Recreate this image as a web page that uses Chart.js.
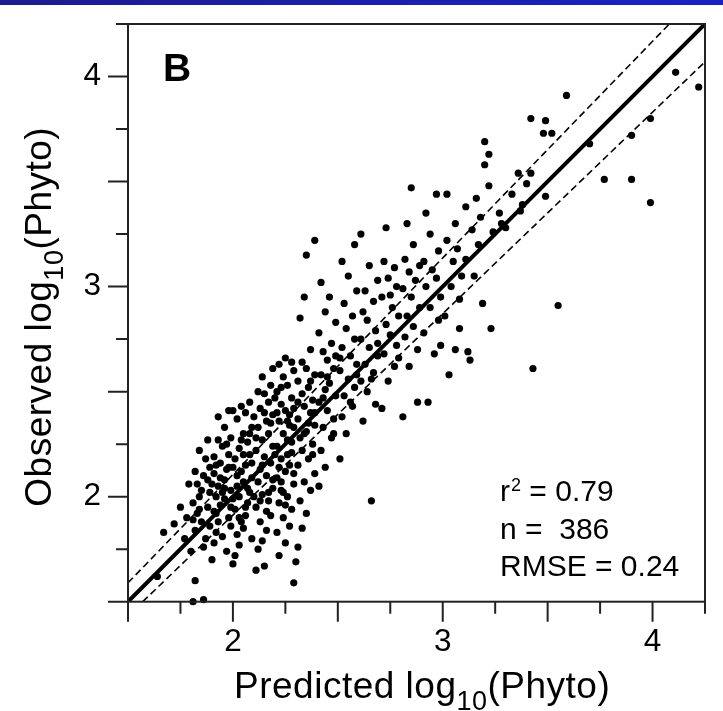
<!DOCTYPE html>
<html>
<head>
<meta charset="utf-8">
<script src="https://cdn.jsdelivr.net/npm/chart.js@4"></script>
<style>
  html, body { margin: 0; padding: 0; background: #fff; }
  #wrap { position: relative; width: 723px; height: 711px; }
  #band { position: absolute; left: 0; top: 0; width: 723px; height: 5px;
          background: linear-gradient(to right, #1c1c8e, #1a22c4); }
</style>
</head>
<body>
<div id="wrap">
  <canvas id="chart"></canvas>
  <div id="band"></div>
</div>
<script>
const axisMin = 1.5, axisMax = 4.25, tickStep = 0.25;
const tickLabels = [2, 3, 4];
const panelLabel = 'B';
const r2 = '0.79', nObs = '386', rmse = '0.24';

// 1:1 line and the two dashed bounds
const oneToOne = [[1.5, 1.5], [4.25, 4.25]];
const upperLine = [[1.5, 1.59], [4.08, 4.25]];
const lowerLine = [[1.57, 1.5], [4.25, 4.07]];

// [predicted, observed]
const phyto = [
  [1.64,1.62],[1.67,1.83],
  [1.72,1.87],[1.75,1.95],[1.77,1.80],[1.78,1.90],[1.79,2.06],
  [1.81,1.50],[1.82,1.60],[1.86,1.51],[1.80,1.74],[1.82,1.84],[1.83,1.92],[1.81,1.97],[1.84,2.00],
  [1.85,2.03],[1.83,2.06],[1.86,2.10],[1.87,2.18],[1.84,2.22],[1.88,2.27],[1.85,1.88],[1.88,1.95],
  [1.89,2.02],[1.87,1.80],[1.89,1.86],[1.82,2.12],[1.86,1.76],[1.88,2.08],[1.84,1.94],[1.89,2.14],[1.81,1.89],
  [1.90,1.70],[1.91,1.78],[1.92,1.83],[1.93,1.88],[1.91,1.93],[1.94,1.96],[1.92,2.00],[1.95,2.02],
  [1.93,2.05],[1.96,2.08],[1.91,2.11],[1.97,2.13],[1.94,2.16],[1.98,2.20],[1.95,2.24],[1.99,2.28],
  [1.96,2.33],[1.93,2.38],[1.98,2.41],[1.97,1.74],[1.99,1.86],[1.92,1.92],[1.96,1.99],[1.99,2.03],
  [1.90,2.06],[1.94,2.09],[1.98,2.14],[1.91,2.19],[1.97,2.25],[1.95,1.81],[1.99,1.95],[1.93,2.27],
  [1.96,2.04],[1.92,2.15],[1.98,1.90],
  [2.00,1.68],[2.01,1.72],[2.03,1.77],[2.02,1.82],[2.05,1.85],[2.04,1.88],[2.06,1.91],[2.01,1.94],
  [2.07,1.97],[2.03,2.00],[2.08,2.02],[2.02,2.05],[2.05,2.07],[2.09,2.09],[2.04,2.12],[2.06,2.15],
  [2.01,2.18],[2.08,2.20],[2.03,2.23],[2.07,2.26],[2.05,2.30],[2.09,2.33],[2.02,2.37],[2.06,2.40],
  [2.04,2.43],[2.08,2.45],[2.00,2.41],[2.10,2.38],[2.09,1.80],[2.00,1.99],[2.07,2.04],[2.02,2.10],
  [2.09,2.16],[2.04,2.27],[2.06,1.95],[2.00,2.14],[2.08,2.30],[2.03,1.90],[2.05,2.20],[2.10,2.00],
  [2.11,1.65],[2.15,1.67],[2.12,1.75],[2.14,1.79],[2.16,1.84],[2.13,1.88],[2.18,1.91],[2.11,1.95],
  [2.17,1.98],[2.14,2.01],[2.19,2.04],[2.12,2.07],[2.16,2.10],[2.13,2.13],[2.18,2.16],[2.15,2.19],
  [2.11,2.22],[2.19,2.24],[2.14,2.27],[2.17,2.30],[2.12,2.33],[2.16,2.36],[2.19,2.39],[2.13,2.42],
  [2.17,2.45],[2.15,2.49],[2.18,2.53],[2.14,2.57],[2.19,2.61],[2.12,2.50],[2.20,2.20],[2.16,1.93],
  [2.19,2.08],[2.11,2.28],[2.18,2.35],[2.13,1.98],[2.15,2.40],[2.17,2.02],[2.14,2.15],[2.20,2.47],
  [2.29,1.59],[2.30,1.69],[2.22,1.72],[2.25,1.78],[2.21,1.83],[2.27,1.86],[2.24,1.90],[2.28,1.94],
  [2.22,1.97],[2.26,2.00],[2.23,2.03],[2.29,2.06],[2.21,2.09],[2.25,2.12],[2.27,2.15],[2.23,2.18],
  [2.28,2.21],[2.21,2.24],[2.26,2.27],[2.24,2.30],[2.29,2.33],[2.22,2.36],[2.27,2.39],[2.25,2.41],
  [2.23,2.44],[2.28,2.47],[2.21,2.50],[2.26,2.53],[2.24,2.57],[2.29,2.60],[2.22,2.63],[2.25,2.66],
  [2.28,2.64],[2.26,2.20],[2.29,2.11],[2.23,2.07],[2.27,2.34],[2.21,2.40],[2.24,2.02],[2.28,2.26],
  [2.25,1.96],[2.22,2.14],[2.29,2.42],[2.26,2.36],[2.23,2.52],
  [2.31,1.76],[2.33,1.85],[2.35,1.92],[2.32,1.98],[2.37,2.03],[2.34,2.07],[2.39,2.11],[2.31,2.15],
  [2.36,2.18],[2.33,2.22],[2.38,2.25],[2.32,2.28],[2.35,2.31],[2.39,2.34],[2.31,2.37],[2.37,2.40],
  [2.34,2.43],[2.38,2.46],[2.33,2.49],[2.36,2.52],[2.31,2.55],[2.39,2.58],[2.35,2.61],[2.33,2.64],
  [2.37,2.70],[2.32,2.85],[2.35,3.15],[2.39,3.22],[2.34,2.95],[2.38,2.20],[2.36,2.35],[2.31,2.45],
  [2.39,2.40],[2.34,2.30],[2.37,2.55],
  [2.41,2.05],[2.44,2.14],[2.42,2.22],[2.47,2.28],[2.43,2.33],[2.48,2.37],[2.45,2.41],[2.41,2.45],
  [2.49,2.48],[2.44,2.51],[2.46,2.54],[2.42,2.58],[2.48,2.61],[2.45,2.65],[2.43,2.69],[2.47,2.73],
  [2.41,2.78],[2.49,2.83],[2.44,2.88],[2.46,2.95],[2.42,3.02],[2.48,2.30],[2.45,2.57],[2.49,2.67],[2.43,2.47],
  [2.51,2.18],[2.54,2.30],[2.52,2.38],[2.57,2.43],[2.53,2.48],[2.58,2.52],[2.55,2.56],[2.51,2.60],
  [2.59,2.63],[2.56,2.67],[2.52,2.71],[2.58,2.75],[2.54,2.80],[2.57,2.86],[2.53,2.92],[2.59,2.98],
  [2.55,3.05],[2.58,3.20],[2.52,3.12],[2.56,2.45],[2.51,2.66],[2.59,2.58],
  [2.66,1.98],[2.62,2.36],[2.68,2.44],[2.64,2.50],[2.61,2.55],[2.67,2.59],[2.63,2.63],[2.69,2.67],
  [2.65,2.71],[2.61,2.75],[2.68,2.79],[2.64,2.84],[2.62,2.88],[2.67,2.93],[2.63,2.98],[2.69,3.03],
  [2.65,3.10],[2.61,3.25],[2.66,2.56],[2.69,2.73],
  [2.71,2.42],[2.74,2.55],[2.77,2.62],[2.72,2.68],[2.78,2.72],[2.75,2.77],[2.73,2.82],[2.79,2.86],
  [2.76,2.90],[2.71,2.95],[2.78,3.00],[2.74,3.04],[2.77,3.09],[2.72,3.12],[2.79,2.66],[2.75,2.96],[2.73,3.28],
  [2.81,2.38],[2.84,2.62],[2.88,2.70],[2.82,2.76],[2.86,2.81],[2.83,2.86],[2.89,2.90],[2.85,2.95],
  [2.81,2.99],[2.87,3.03],[2.84,3.07],[2.89,3.10],[2.82,3.13],[2.86,3.20],[2.85,3.47],[2.88,2.45],[2.83,3.30],
  [2.93,2.45],[2.96,2.68],[2.91,2.78],[2.98,2.84],[2.94,2.90],[2.99,2.95],[2.92,3.00],[2.97,3.04],
  [2.95,3.08],[2.91,3.12],[2.98,3.17],[2.94,3.25],[2.97,3.44],[2.99,2.72],[2.92,3.35],
  [3.02,3.44],[3.03,2.58],[3.06,2.70],[3.01,2.86],[3.08,2.94],[3.04,3.00],[3.09,3.05],[3.05,3.12],
  [3.07,3.18],[3.02,3.22],[3.08,2.80],[3.06,3.30],
  [3.12,2.69],[3.13,2.65],[3.15,3.05],[3.11,3.13],[3.17,3.20],[3.14,3.27],[3.18,3.33],[3.16,3.42],
  [3.19,2.92],[3.11,3.38],
  [3.20,3.69],[3.22,3.63],[3.20,3.58],[3.23,2.80],[3.24,3.26],[3.27,3.35],[3.22,3.48],[3.28,3.30],
  [3.30,3.28],[3.36,3.54],[3.37,3.36],[3.38,3.39],[3.33,3.44],
  [3.40,3.49],[3.42,3.54],[3.42,3.80],[3.43,2.61],[3.49,3.43],[3.49,3.79],[3.48,3.73],
  [3.52,3.73],[3.55,2.91],[3.59,3.91],
  [3.70,3.68],[3.77,3.51],
  [3.90,3.72],[3.90,3.51],[3.99,3.80],[3.99,3.40],
  [4.11,4.02],[4.22,3.95]
];

const FONT = '"Liberation Sans", Arial, sans-serif';
const INK = '#222';

const toXY = arr => arr.map(([x, y]) => ({ x, y }));

// draws the box, the two-length ticks, the axis titles and the text inside
const decorations = {
  id: 'decorations',
  afterDraw(chart) {
    const { ctx, chartArea: a, scales: { x, y } } = chart;
    ctx.save();
    ctx.strokeStyle = INK;
    ctx.lineWidth = 2;
    ctx.strokeRect(a.left, a.top, a.right - a.left, a.bottom - a.top);
    ctx.beginPath();
    x.ticks.forEach(t => {
      const px = x.getPixelForValue(t.value);
      const len = Number.isInteger(t.value * 2) ? 20 : 12;
      ctx.moveTo(px, a.bottom);
      ctx.lineTo(px, a.bottom + len);
    });
    y.ticks.forEach(t => {
      const py = y.getPixelForValue(t.value);
      const len = Number.isInteger(t.value * 2) ? 20 : 12;
      ctx.moveTo(a.left - len, py);
      ctx.lineTo(a.left, py);
    });
    ctx.stroke();

    ctx.fillStyle = '#000';
    ctx.textBaseline = 'alphabetic';
    ctx.textAlign = 'left';

    const title = (word, bx, by) => {
      const main = `37px ${FONT}`, sub = `27px ${FONT}`;
      ctx.letterSpacing = '0.5px';
      let cx = bx;
      ctx.font = main;
      ctx.fillText(word + ' log', cx, by);
      cx += ctx.measureText(word + ' log').width;
      ctx.font = sub;
      ctx.fillText('10', cx, by + 12);
      cx += ctx.measureText('10').width;
      ctx.font = main;
      ctx.fillText('(Phyto)', cx, by);
      ctx.letterSpacing = '0px';
    };

    title('Predicted', a.left + 106, a.bottom + 96.5);

    ctx.save();
    ctx.translate(51, a.bottom - 95);
    ctx.rotate(-Math.PI / 2);
    title('Observed', 0, 0);
    ctx.restore();

    ctx.font = `bold 39px ${FONT}`;
    ctx.fillText(panelLabel, a.left + 35, a.top + 57);

    const sx = a.left + 372;
    ctx.font = `30px ${FONT}`;
    ctx.fillText('r', sx, 501);
    let cx = sx + ctx.measureText('r').width + 1;
    ctx.font = `18px ${FONT}`;
    ctx.fillText('2', cx, 491);
    cx += ctx.measureText('2').width;
    ctx.font = `30px ${FONT}`;
    ctx.fillText(' = ' + r2, cx, 501);
    ctx.fillText('n =  ' + nObs, sx, 538.5);
    ctx.fillText('RMSE = ' + rmse, sx, 576);
    ctx.restore();
  }
};

const axisOptions = (fitFn) => ({
  type: 'linear',
  min: axisMin,
  max: axisMax,
  grid: { display: false, drawTicks: false },
  border: { display: false },
  ticks: {
    stepSize: tickStep,
    autoSkip: false,
    maxRotation: 0,
    color: '#000',
    font: { family: FONT, size: 31.5 },
    callback: v => (tickLabels.includes(v) ? String(v) : ''),
  },
  afterFit: fitFn,
});

// fixed axis sizes, and no extra room for overhanging labels
const xAxis = axisOptions(s => {
  s.height = 109.3;
  s.paddingLeft = 0;
  s.paddingRight = 0;
});
xAxis.ticks.padding = 22;
const yAxis = axisOptions(s => {
  s.width = 128;
  s.paddingTop = 0;
  s.paddingBottom = 0;
});
yAxis.ticks.padding = 27;

new Chart(document.getElementById('chart'), {
  type: 'scatter',
  data: {
    datasets: [
      {
        label: '1:1',
        data: toXY(oneToOne),
        showLine: true,
        borderColor: '#000',
        borderWidth: 4,
        pointRadius: 0,
      },
      {
        label: 'upper',
        data: toXY(upperLine),
        showLine: true,
        borderColor: '#000',
        borderWidth: 1.6,
        borderDash: [7, 4],
        pointRadius: 0,
      },
      {
        label: 'lower',
        data: toXY(lowerLine),
        showLine: true,
        borderColor: '#000',
        borderWidth: 1.6,
        borderDash: [7, 4],
        pointRadius: 0,
      },
      {
        label: 'Phyto',
        data: toXY(phyto),
        backgroundColor: '#000',
        borderWidth: 0,
        pointRadius: 3.6,
        clip: false,
      },
    ],
  },
  options: {
    responsive: true,
    maintainAspectRatio: false,
    animation: false,
    layout: { padding: { top: 24, right: 18, left: 0, bottom: 0 } },
    plugins: { legend: { display: false }, tooltip: { enabled: false } },
    scales: { x: xAxis, y: yAxis },
  },
  plugins: [decorations],
});
</script>
</body>
</html>
